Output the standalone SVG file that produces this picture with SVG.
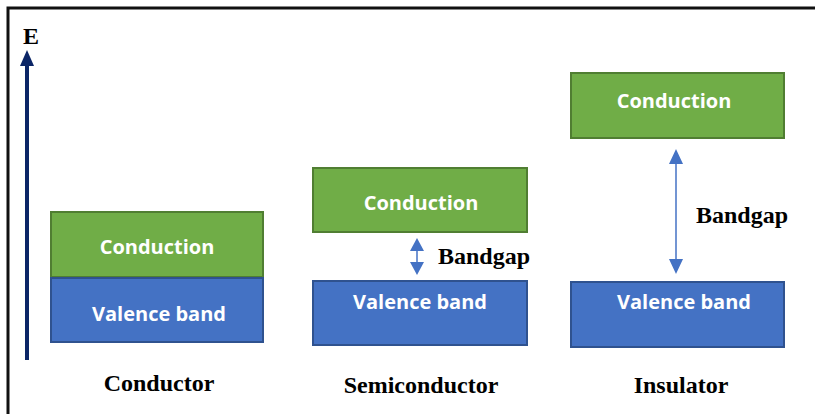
<svg xmlns="http://www.w3.org/2000/svg" width="815" height="414" viewBox="0 0 815 414">
<style>
.cb{fill:#70ad47;stroke:#507e32;stroke-width:2}
.vb{fill:#4472c4;stroke:#2f528f;stroke-width:2}
.bt{fill:#fff;font-family:"Open Sans",sans-serif;font-weight:700;font-size:20px;text-anchor:middle}
.lb{fill:#000;font-family:"Liberation Serif",serif;font-weight:700;font-size:24px;text-anchor:middle}
.gl{fill:#000;font-family:"Liberation Serif",serif;font-weight:700;font-size:24px}
.ga{stroke:#4472c4;stroke-width:1.5;fill:none}
.gh{fill:#4472c4}
</style>
<rect width="815" height="414" fill="#fff"/>
<path d="M8 414 V8 H815" fill="none" stroke="#111" stroke-width="3"/>
<g id="axis">
<line x1="27" y1="360" x2="27" y2="62" stroke="#0b2566" stroke-width="4"/>
<polygon points="27,50 20,66 34,66" fill="#0b2566"/>
<text x="23" y="44" class="gl" font-size="23">E</text>
</g>
<g id="conductor">
<rect class="cb" x="51" y="212" width="212" height="65"/>
<text class="bt" x="157" y="254">Conduction</text>
<rect class="vb" x="51" y="278" width="212" height="64"/>
<text class="bt" x="159" y="321">Valence band</text>
<text class="lb" x="159" y="391">Conductor</text>
</g>
<g id="semiconductor">
<rect class="cb" x="313" y="168" width="214" height="64"/>
<text class="bt" x="421" y="210">Conduction</text>
<rect class="vb" x="313" y="281" width="214" height="64"/>
<text class="bt" x="420" y="309">Valence band</text>
<text class="lb" x="421" y="393">Semiconductor</text>
</g>
<g id="insulator">
<rect class="cb" x="571" y="73" width="213" height="65"/>
<text class="bt" x="674" y="108">Conduction</text>
<rect class="vb" x="571" y="282" width="213" height="65"/>
<text class="bt" x="684" y="309">Valence band</text>
<text class="lb" x="681" y="393">Insulator</text>
</g>
<g id="connectors">
<line class="ga" x1="417" y1="248" x2="417" y2="266"/>
<polygon class="gh" points="417,238 410,251 424,251"/>
<polygon class="gh" points="417,275 410,262 424,262"/>
<text class="gl" x="438" y="264">Bandgap</text>
<line class="ga" x1="676" y1="160" x2="676" y2="264"/>
<polygon class="gh" points="676,149 669,164 683,164"/>
<polygon class="gh" points="676,274 669,259 683,259"/>
<text class="gl" x="696" y="223">Bandgap</text>
</g>
</svg>
